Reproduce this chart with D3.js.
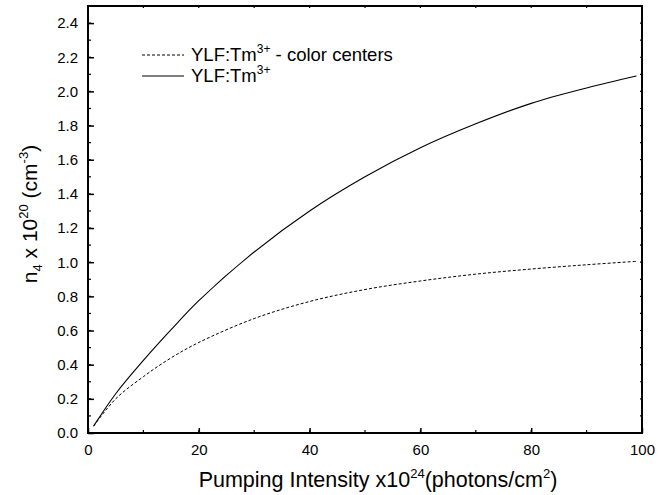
<!DOCTYPE html>
<html>
<head>
<meta charset="utf-8">
<script src="https://cdn.jsdelivr.net/npm/d3@7"></script>
<style>
  body { margin: 0; background: #fff; }
  text { font-family: "Liberation Sans", Arial, sans-serif; fill: #000; }
</style>
</head>
<body>
<div id="chart"></div>
<script>
const width = 672;
const height = 495;
const margin = { top: 6, right: 30, bottom: 62, left: 88 };

// pumping intensity (x10^24 photons/cm^2)
const intensity = [1, 5, 10, 15, 20, 30, 40, 50, 60, 70, 80, 90, 99];
// n4 x 10^20 for YLF:Tm3+ - color centers (dashed)
const withCenters = [0.04, 0.20, 0.33, 0.44, 0.53, 0.67, 0.77, 0.84, 0.89, 0.93, 0.96, 0.985, 1.005];
// n4 x 10^20 for YLF:Tm3+ (solid)
const plain = [0.04, 0.23, 0.425, 0.605, 0.775, 1.06, 1.30, 1.50, 1.67, 1.81, 1.93, 2.02, 2.09];

const xTicks = [0, 20, 40, 60, 80, 100];
const yTicks = [0, 0.2, 0.4, 0.6, 0.8, 1.0, 1.2, 1.4, 1.6, 1.8, 2.0, 2.2, 2.4];

const svg = d3.select("#chart").append("svg")
    .attr("width", width)
    .attr("height", height);

const x = d3.scaleLinear().domain([0, 100]).range([margin.left, width - margin.right]);
const y = d3.scaleLinear().domain([0, 2.5]).range([height - margin.bottom, margin.top]);

const x0 = x.range()[0], x1 = x.range()[1];
const y0 = y.range()[0], y1 = y.range()[1];

// minor ticks
const xMinor = d3.range(0, 101, 10);
const yMinor = d3.range(0, 26).map(i => i / 10);

const g = svg.append("g");

// bottom minor ticks
g.selectAll(".xminor").data(xMinor).enter().append("line")
    .attr("x1", d => x(d)).attr("x2", d => x(d))
    .attr("y1", y0).attr("y2", y0 - 3)
    .attr("stroke", "#000").attr("stroke-width", 1.2);
// left minor ticks
g.selectAll(".yminor").data(yMinor).enter().append("line")
    .attr("y1", d => y(d)).attr("y2", d => y(d))
    .attr("x1", x0).attr("x2", x0 + 3)
    .attr("stroke", "#000").attr("stroke-width", 1.2);
// top ticks
g.selectAll(".xtop").data(xMinor).enter().append("line")
    .attr("x1", d => x(d)).attr("x2", d => x(d))
    .attr("y1", y1).attr("y2", y1 + 2)
    .attr("stroke", "#000").attr("stroke-width", 1.2);
// right ticks
g.selectAll(".yright").data(yMinor).enter().append("line")
    .attr("y1", d => y(d)).attr("y2", d => y(d))
    .attr("x1", x1).attr("x2", x1 - 2)
    .attr("stroke", "#000").attr("stroke-width", 1.2);

// main axes
const xAxis = svg.append("g")
    .attr("transform", `translate(0,${y0})`)
    .call(d3.axisBottom(x).tickValues(xTicks).tickSizeInner(-5).tickSizeOuter(0).tickPadding(11));
const yAxis = svg.append("g")
    .attr("transform", `translate(${x0},0)`)
    .call(d3.axisLeft(y).tickValues(yTicks).tickFormat(d3.format(".1f")).tickSizeInner(-6).tickSizeOuter(0).tickPadding(10));

[xAxis, yAxis].forEach(a => {
    a.select(".domain").remove();
    a.selectAll(".tick line").attr("stroke", "#000").attr("stroke-width", 1.5);
    a.selectAll(".tick text").style("font-size", "15px").attr("fill", "#000")
        .style("font-family", '"Liberation Sans", Arial, sans-serif');
});

// frame
svg.append("rect")
    .attr("x", x0).attr("y", y1)
    .attr("width", x1 - x0).attr("height", y0 - y1)
    .attr("fill", "none").attr("stroke", "#000").attr("stroke-width", 2);

// curves
const line = d3.line()
    .x((d, i) => x(intensity[i]))
    .y(d => y(d))
    .curve(d3.curveCatmullRom.alpha(0.5));

svg.append("path")
    .datum(withCenters)
    .attr("d", line)
    .attr("fill", "none")
    .attr("stroke", "#000")
    .attr("stroke-width", 1)
    .attr("stroke-dasharray", "3,2");

svg.append("path")
    .datum(plain)
    .attr("d", line)
    .attr("fill", "none")
    .attr("stroke", "#000")
    .attr("stroke-width", 1.1);

// legend
const legend = svg.append("g");
const legendRows = [
    { dash: "3,2", main: "YLF:Tm", tail: " - color centers", y: 61 },
    { dash: null, main: "YLF:Tm", tail: "", y: 82 }
];
legendRows.forEach(r => {
    legend.append("line")
        .attr("x1", 142).attr("x2", 184)
        .attr("y1", r.y - 6).attr("y2", r.y - 6)
        .attr("stroke", "#000").attr("stroke-width", 1)
        .attr("stroke-dasharray", r.dash);
    const t = legend.append("text")
        .attr("x", 191).attr("y", r.y)
        .style("font-size", "18.5px");
    t.append("tspan").text(r.main);
    t.append("tspan").attr("dy", -8).style("font-size", "12px").text("3+");
    if (r.tail) t.append("tspan").attr("dy", 8).text(r.tail);
});

// x title
const xt = svg.append("text")
    .attr("x", 378).attr("y", 487)
    .attr("text-anchor", "middle")
    .style("font-size", "21.5px");
xt.append("tspan").text("Pumping Intensity x10");
xt.append("tspan").attr("dy", -9).style("font-size", "13px").text("24");
xt.append("tspan").attr("dy", 9).text("(photons/cm");
xt.append("tspan").attr("dy", -9).style("font-size", "13px").text("2");
xt.append("tspan").attr("dy", 9).text(")");

// y title
const yt = svg.append("text")
    .attr("transform", `translate(37,214) rotate(-90)`)
    .attr("text-anchor", "middle")
    .style("font-size", "21px");
yt.append("tspan").text("n");
yt.append("tspan").attr("dy", 5).style("font-size", "13px").text("4");
yt.append("tspan").attr("dy", -5).text(" x 10");
yt.append("tspan").attr("dy", -9).style("font-size", "13px").text("20");
yt.append("tspan").attr("dy", 9).text(" (cm");
yt.append("tspan").attr("dy", -9).style("font-size", "13px").text("-3");
yt.append("tspan").attr("dy", 9).text(")");
</script>
</body>
</html>
